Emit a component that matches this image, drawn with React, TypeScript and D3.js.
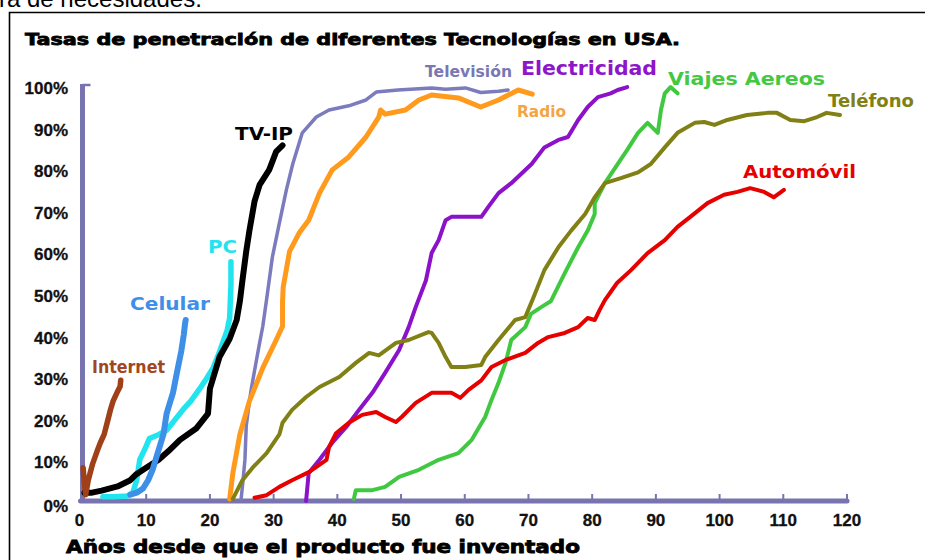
import React from "react";
import * as d3 from "d3";

type P = [number, number];

const xTicks = [0, 10, 20, 30, 40, 50, 60, 70, 80, 90, 100, 110, 120];
const yTicks = [0, 10, 20, 30, 40, 50, 60, 70, 80, 90, 100];

const internet: P[] = [[0.1, 8], [0.3, 4], [0.5, 1.5], [0.9, 5], [1.6, 9], [2.3, 12], [2.8, 14], [3.4, 16], [3.9, 19], [4.4, 22], [4.8, 24], [5.4, 26], [5.9, 27.5], [6.0, 29]];
const tvip: P[] = [[0.3, 2], [1.5, 2], [3, 2.5], [5.5, 3.5], [7.5, 5], [8.5, 6.5], [10, 8], [12, 10], [13.5, 12], [15.3, 14.7], [17.9, 17.5], [19.7, 21], [20, 27], [21.5, 34.6], [23.1, 39], [24.2, 43.5], [24.7, 48], [25.1, 53], [25.7, 60], [26.2, 65], [27, 72], [27.8, 76], [29.3, 79.6], [30.4, 84], [31.4, 85.5]];
const pc: P[] = [[3.2, 1], [5, 1], [7, 1.2], [7.9, 2], [8.5, 5], [9, 10], [9.8, 12.5], [10.5, 15], [12, 16], [13.2, 17], [14.5, 19.5], [15.8, 22], [17, 24], [18.4, 27], [19.5, 29.5], [20.5, 32], [21.3, 35], [22, 38], [22.7, 41], [23.1, 44], [23.2, 48], [23.3, 52], [23.3, 57.5]];
const celular: P[] = [[7.5, 1.5], [8.5, 2], [9.5, 3], [10.3, 5], [11, 7.5], [11.7, 11], [12.2, 13.5], [12.7, 16], [13.2, 21], [13.7, 23.5], [14.2, 26], [14.8, 30.7], [15.5, 36], [15.9, 40], [16.1, 42.7], [16.2, 43.5]];
const television: P[] = [[24.9, 0.5], [25.2, 5], [25.5, 10], [25.7, 18], [26.2, 24], [26.5, 27], [27.2, 33], [27.8, 38], [28.3, 42], [28.9, 48.5], [29.8, 58.6], [30.9, 66.8], [32, 74.8], [33, 81], [34.5, 88.5], [36.7, 92.3], [38.7, 94], [41.8, 95], [44.5, 96.4], [46.1, 98.3], [49.5, 98.8], [54.8, 99.3], [57, 99], [60.1, 99.3], [62.5, 98.2], [65.3, 98.5], [66.8, 98.8]];
const radio: P[] = [[23.1, 0.5], [23.6, 6.7], [24.7, 16], [26.2, 24], [28.3, 32], [30.4, 38.7], [31.4, 42], [31.4, 48], [31.5, 51.4], [32.5, 60], [34, 64.4], [35.5, 67.5], [37.2, 74], [39.2, 79.6], [41.8, 82.7], [44.5, 87.5], [46.5, 92.3], [46.8, 94], [47.5, 93], [50.7, 94], [52.8, 96.4], [54.8, 97.6], [59, 96.9], [62.5, 94.7], [65.3, 96.4], [68.4, 98.8], [70.6, 97.8]];
const electricidad: P[] = [[35.1, 0], [35.5, 6.7], [37.2, 9.9], [39.2, 14], [41.4, 17.8], [43.4, 21.9], [45.5, 26], [47.5, 30.8], [49.7, 36.3], [51.2, 41.8], [52.3, 46.6], [53.9, 53], [54.8, 59.6], [55.9, 62.7], [57, 67.5], [57.9, 68.3], [62.6, 68.3], [63.7, 70.7], [65.3, 74], [67.3, 76.4], [70.5, 81], [72.5, 85], [74.7, 86.8], [76.2, 87.5], [77.8, 91.6], [79.3, 94.7], [80.9, 97.1], [82.9, 98], [84, 98.8], [85.5, 99.5]];
const viajes: P[] = [[42.6, 0.5], [42.9, 2.6], [45.5, 2.6], [47.5, 3.4], [49.7, 5.8], [52.8, 7.5], [55.9, 9.9], [59, 11.5], [61.1, 14.7], [63.2, 20.2], [64.2, 24.3], [65.3, 28.4], [66.4, 33.2], [67.3, 38.7], [69.5, 41.8], [70.4, 45], [72, 46.6], [73.5, 48], [75.7, 54.8], [77.8, 61], [79.3, 65], [80.4, 69], [80.4, 71.6], [82, 76.4], [84, 81], [85.5, 84.4], [87.2, 88.5], [88.7, 90.9], [90.3, 88.5], [90.8, 94], [91.4, 98], [92.3, 99.5], [93.4, 98]];
const telefono: P[] = [[23.6, 0.5], [25.1, 5], [26.7, 8], [28.9, 11.5], [30.9, 16], [31.4, 18.8], [32.9, 21.9], [35.1, 25], [37.2, 27.4], [40.3, 29.8], [42.9, 33.2], [45, 35.6], [46.5, 35], [49.2, 38], [51.2, 38.7], [54.3, 40.6], [54.8, 40.4], [55.9, 38], [57, 34.6], [57.9, 32.2], [60.1, 32.2], [62.6, 32.7], [63.2, 34.6], [65.3, 38.7], [67.9, 43.5], [69.5, 44.2], [70.8, 49], [72.5, 55.5], [74.7, 61], [76.7, 65], [78.9, 69], [80.4, 73], [82, 76.4], [84.5, 77.6], [87.2, 79], [89.2, 81], [91.4, 85], [93.4, 88.5], [96.1, 90.9], [97.6, 91.1], [99.2, 90.4], [101.2, 91.6], [104.3, 92.8], [107.5, 93.3], [109, 93.3], [111.1, 91.6], [113.3, 91.3], [115.3, 92.3], [116.8, 93.3], [118.9, 92.8]];
const automovil: P[] = [[27, 0.8], [28.9, 1.4], [30.9, 3.4], [32.9, 5], [35.6, 7], [38.3, 9.9], [38.7, 13], [39.8, 16.3], [41.8, 18.8], [43.9, 20.7], [46.1, 21.4], [47.5, 20.2], [49.2, 19], [50.1, 20.2], [52.3, 23.6], [54.8, 26], [57.9, 26], [59.3, 24.8], [60.6, 26.7], [62.6, 29], [64.2, 32.2], [66.4, 33.9], [69.5, 35.6], [71.5, 38], [73.1, 39.4], [75.7, 40.4], [77.8, 41.8], [79.3, 44], [80.4, 43.5], [81.2, 46], [82, 48.3], [83.9, 52.4], [86.1, 55.5], [88.7, 59.6], [91.4, 62.7], [93.4, 65.9], [95.4, 68.3], [98.1, 71.6], [100.7, 73.6], [102.8, 74.3], [104.8, 75.2], [107, 74.3], [108.5, 73], [110.1, 74.8]];

const seriesNames = ["Televisión", "Radio", "Electricidad", "Viajes Aereos", "Teléfono", "Automóvil", "PC", "TV-IP", "Celular", "Internet"];
const seriesData = [television, radio, electricidad, viajes, telefono, automovil, pc, tvip, celular, internet];

const lineStyle: Record<string, { color: string; width: number }> = {
  "Televisión": { color: "#7b7bbd", width: 3.5 },
  "Radio": { color: "#ff9a1c", width: 5 },
  "Electricidad": { color: "#8b12c8", width: 4 },
  "Viajes Aereos": { color: "#40c940", width: 4 },
  "Teléfono": { color: "#808014", width: 4 },
  "Automóvil": { color: "#e60000", width: 4 },
  "PC": { color: "#22e4ef", width: 5.5 },
  "TV-IP": { color: "#000000", width: 6 },
  "Celular": { color: "#3d8fe8", width: 6 },
  "Internet": { color: "#a04018", width: 5.5 },
};

const labelStyle: Record<string, { x: number; y: number; len: number; fs: number; color: string }> = {
  "Internet": { x: 92, y: 373, len: 73, fs: 17, color: "#a2461e" },
  "Celular": { x: 130, y: 310, len: 80, fs: 17, color: "#3f8ee8" },
  "PC": { x: 208, y: 253, len: 29, fs: 17, color: "#24e2f0" },
  "TV-IP": { x: 235, y: 140, len: 58, fs: 17, color: "#000000" },
  "Televisión": { x: 425, y: 77, len: 87, fs: 16, color: "#7878b4" },
  "Electricidad": { x: 521, y: 75, len: 136, fs: 19, color: "#8e16c8" },
  "Radio": { x: 517, y: 117, len: 49, fs: 16, color: "#f5a444" },
  "Viajes Aereos": { x: 668, y: 85, len: 157, fs: 18, color: "#44c844" },
  "Teléfono": { x: 828, y: 107, len: 0, fs: 18, color: "#808014" },
  "Automóvil": { x: 743, y: 178, len: 113, fs: 17, color: "#e60000" },
};

const title = "Tasas de penetración de diferentes Tecnologías en USA.";
const xTitle = "Años desde que el producto fue inventado";
const topText = "ra de necesidades.";

export default function App() {
  const x = d3.scaleLinear().domain([0, 120]).range([82.5, 847]);
  const y = d3.scaleLinear().domain([0, 100]).range([501, 85]);
  const line = d3.line<P>().x((d) => x(d[0])).y((d) => y(d[1])).curve(d3.curveLinear);
  const axisColor = "#7774b0";
  const tickFont = "'Liberation Sans', Arial, sans-serif";
  const labelFont = "'DejaVu Sans', Verdana, sans-serif";

  return (
    <svg width={925} height={560} style={{ position: "absolute", left: 0, top: 0, background: "#fff" }}>
      <rect x={0} y={0} width={925} height={560} fill="#fff" />
      <text x={-1} y={7} fontFamily={tickFont} fontSize={24} fill="#000">{topText}</text>
      <path d="M9.5,560 L9.5,12.5 L925,12.5" fill="none" stroke="#000" strokeWidth={1.6} />
      <text x={25} y={45} fontFamily={labelFont} fontWeight="bold" fontSize={16} fill="#000" stroke="#000" strokeWidth={0.8} textLength={655} lengthAdjust="spacingAndGlyphs">{title}</text>

      {/* axes */}
      <line x1={x(0)} y1={y(0) + 2} x2={x(0)} y2={y(100) - 1} stroke={axisColor} strokeWidth={5} />
      <line x1={x(0)} y1={y(100)} x2={x(0) + 8} y2={y(100)} stroke={axisColor} strokeWidth={2.5} />
      <line x1={x(0) - 2} y1={y(0)} x2={x(120)} y2={y(0)} stroke={axisColor} strokeWidth={5} strokeLinecap="round" />
      {xTicks.filter((t) => t > 0).map((t) => (
        <line key={"xt" + t} x1={x(t)} y1={y(0)} x2={x(t)} y2={y(0) - 7} stroke={axisColor} strokeWidth={2} />
      ))}
      {xTicks.map((t) => (
        <text key={"xl" + t} x={x(t) - (t === 0 ? 3 : 0)} y={526} textAnchor="middle" fontFamily={tickFont} fontWeight="bold" fontSize={17} fill="#111" stroke="#111" strokeWidth={0.3}>{t}</text>
      ))}
      {yTicks.map((t) => (
        <text key={"yl" + t} x={68} y={y(t) + 9 + (t === 0 ? 2 : 0)} textAnchor="end" fontFamily={tickFont} fontWeight="bold" fontSize={17} fill="#111" stroke="#111" strokeWidth={0.3}>{t + "%"}</text>
      ))}

      {/* series */}
      {seriesNames.map((n, i) => (
        <path key={"s" + n} d={line(seriesData[i]) || ""} fill="none" stroke={lineStyle[n].color} strokeWidth={lineStyle[n].width} strokeLinejoin="round" strokeLinecap="round" />
      ))}

      {/* labels */}
      {seriesNames.map((n) => {
        const l = labelStyle[n];
        return (
          <text key={"l" + n} x={l.x} y={l.y} fontFamily={labelFont} fontWeight="bold" fontSize={l.fs} fill={l.color}
            {...(l.len ? { textLength: l.len, lengthAdjust: "spacingAndGlyphs" } : {})}>{n}</text>
        );
      })}

      <text x={66} y={553} fontFamily={labelFont} fontWeight="bold" fontSize={17} fill="#000" stroke="#000" strokeWidth={0.8} textLength={514} lengthAdjust="spacingAndGlyphs">{xTitle}</text>
    </svg>
  );
}
